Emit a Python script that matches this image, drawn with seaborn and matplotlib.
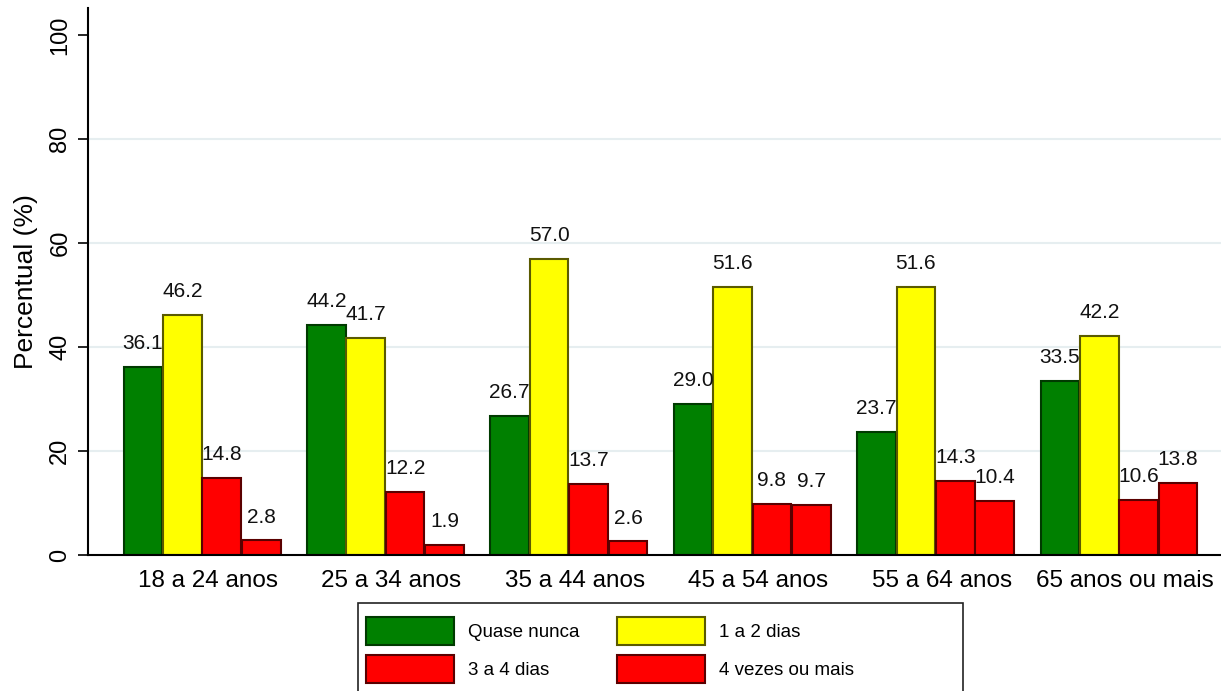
import pandas as pd
import matplotlib.pyplot as plt
import matplotlib.transforms as mtransforms
import seaborn as sns
from matplotlib.patches import Rectangle

# Chart values
faixas = ["18 a 24 anos", "25 a 34 anos", "35 a 44 anos",
          "45 a 54 anos", "55 a 64 anos", "65 anos ou mais"]
series = ["Quase nunca", "1 a 2 dias", "3 a 4 dias", "4 vezes ou mais"]
quase_nunca = [36.1, 44.2, 26.7, 29.0, 23.7, 33.5]
um_a_dois = [46.2, 41.7, 57.0, 51.6, 51.6, 42.2]
tres_a_quatro = [14.8, 12.2, 13.7, 9.8, 14.3, 10.6]
quatro_mais = [2.8, 1.9, 2.6, 9.7, 10.4, 13.8]

fills = ["#008000", "#ffff00", "#ff0000", "#ff0000"]
edges = ["#003a00", "#5a5a00", "#5a0000", "#5a0000"]

rows = []
for nome, vals in zip(series, [quase_nunca, um_a_dois, tres_a_quatro, quatro_mais]):
    for faixa, v in zip(faixas, vals):
        rows.append({"Faixa": faixa, "Serie": nome, "Valor": v})
df = pd.DataFrame(rows)

sns.set_theme(style="white")
plt.rcParams["font.family"] = ["Liberation Sans", "DejaVu Sans"]
plt.rcParams["text.color"] = "black"
plt.rcParams["axes.labelcolor"] = "black"
plt.rcParams["xtick.color"] = "black"
plt.rcParams["ytick.color"] = "black"

fig = plt.figure(figsize=(12.21, 6.91), dpi=100)
ax = fig.add_axes([88 / 1221, 1 - 555 / 691, 1 - 88 / 1221, (555 - 8) / 691])

sns.barplot(data=df, x="Faixa", y="Valor", hue="Serie", order=faixas,
            hue_order=series, palette=fills, width=0.86, gap=0.02,
            saturation=1, linewidth=1.5, ax=ax)

for cont, ec in zip(ax.containers, edges):
    for bar in cont:
        bar.set_edgecolor(ec)
    ax.bar_label(cont, fmt="%.1f", padding=10, fontsize=15, color="#111111")

handles, labels = ax.get_legend_handles_labels()
for h, ec in zip(handles, edges):
    h.set_edgecolor(ec)
    h.set_linewidth(1.5)
ax.get_legend().remove()
# row-wise order like the original legend
order = [0, 2, 1, 3]
handles = [handles[i] for i in order]
labels = [labels[i] for i in order]

ax.set_xlim(-0.622, 5.556)
ax.set_ylim(0, 105.2)
ax.set_yticks([0, 20, 40, 60, 80, 100])
ax.set_yticklabels(["0", "20", "40", "60", "80", "100"], rotation=90, va="center")
ax.tick_params(axis="y", length=7, width=1.2, labelsize=17, left=True, pad=5)
ax.tick_params(axis="x", length=0, labelsize=17.5, pad=11)
ax.set_xlabel("")
ax.set_ylabel("Percentual (%)", fontsize=19, labelpad=8)

# category labels sit a little right of the group centre in the original
shift = mtransforms.ScaledTranslation(6 / 100, 0, fig.dpi_scale_trans)
for lab in ax.get_xticklabels():
    lab.set_transform(lab.get_transform() + shift)

ax.yaxis.grid(True, color="#e6eef0", linewidth=1.5)
gl = ax.yaxis.get_gridlines()
gl[0].set_visible(False)
gl[-1].set_visible(False)
ax.set_axisbelow(True)

sns.despine(ax=ax, top=True, right=True)
for s in ["left", "bottom"]:
    ax.spines[s].set_color("black")
    ax.spines[s].set_linewidth(1.5)

# legend box (Stata-style, wider than its contents)
fig.patches.append(Rectangle((358 / 1221, -0.02), 605 / 1221, 0.02 + 1 - 603 / 691,
                             transform=fig.transFigure, fill=False,
                             edgecolor="#222222", linewidth=1.2))
fig.legend(handles, labels, ncol=2, loc="upper left",
           bbox_to_anchor=(366 / 1221, 1 - 617 / 691), frameon=False,
           fontsize=13.5, handlelength=4.7, handleheight=1.9,
           handletextpad=0.75, columnspacing=2.0, labelspacing=0.55,
           borderpad=0, borderaxespad=0)

fig.savefig("out.png", dpi=100)
